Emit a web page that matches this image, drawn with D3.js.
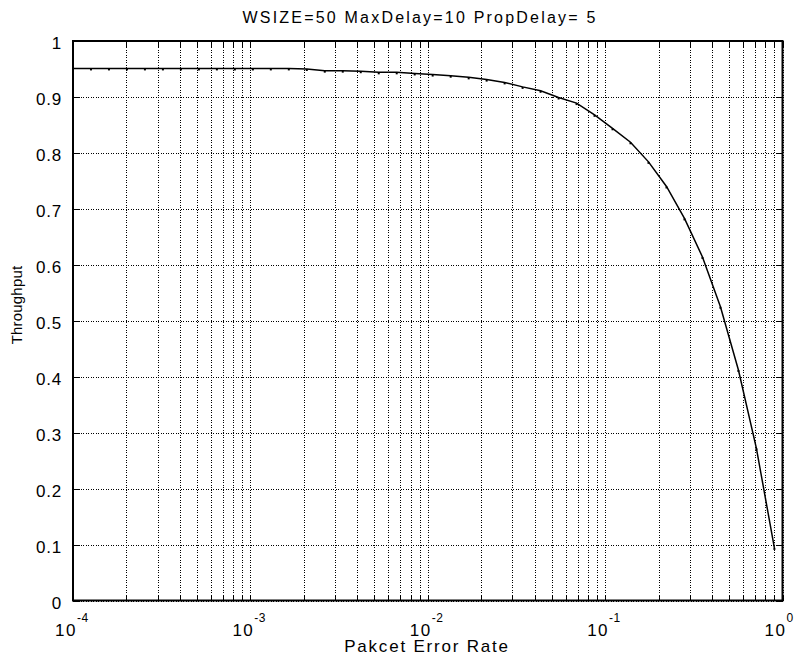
<!DOCTYPE html>
<html>
<head>
<meta charset="utf-8">
<script src="https://cdn.jsdelivr.net/npm/d3@7"></script>
<style>
  body { margin: 0; background: #fff; }
  svg { display: block; font-family: "Liberation Sans", Arial, sans-serif; }
  .grid line { stroke: #000; stroke-width: 1; stroke-dasharray: 1,1.5; shape-rendering: crispEdges; }
  .grid path { display: none; }
  .ticks line { stroke: #000; stroke-width: 1; shape-rendering: crispEdges; }
  .ticks path { display: none; }
</style>
</head>
<body>
<div id="canvas"></div>
<script>
// packet error rate (40 points, log spaced 1e-4 .. 0.9)
var perValues = [
  1.000e-4, 1.263e-4, 1.595e-4, 2.015e-4, 2.544e-4, 3.213e-4, 4.058e-4, 5.126e-4,
  6.474e-4, 8.176e-4, 1.033e-3, 1.304e-3, 1.647e-3, 2.080e-3, 2.627e-3, 3.318e-3,
  4.191e-3, 5.293e-3, 6.684e-3, 8.442e-3, 1.066e-2, 1.347e-2, 1.701e-2, 2.148e-2,
  2.713e-2, 3.426e-2, 4.327e-2, 5.465e-2, 6.902e-2, 8.717e-2, 0.1101, 0.1390,
  0.1756, 0.2218, 0.2801, 0.3538, 0.4468, 0.5643, 0.7127, 0.9
];
var throughput = [
  0.951, 0.951, 0.951, 0.951, 0.951, 0.951, 0.951, 0.951,
  0.951, 0.951, 0.951, 0.951, 0.951, 0.950, 0.947, 0.947,
  0.946, 0.944, 0.944, 0.942, 0.940, 0.938, 0.935, 0.931,
  0.926, 0.918, 0.911, 0.899, 0.889, 0.868, 0.844, 0.819,
  0.784, 0.740, 0.683, 0.614, 0.525, 0.412, 0.272, 0.094
];
var yTicks = [0, 0.1, 0.2, 0.3, 0.4, 0.5, 0.6, 0.7, 0.8, 0.9, 1];
var yTickLabels = ["0", "0.1", "0.2", "0.3", "0.4", "0.5", "0.6", "0.7", "0.8", "0.9", "1"];
var xMajor = [1e-4, 1e-3, 1e-2, 1e-1, 1];
var xExponents = ["-4", "-3", "-2", "-1", "0"];
var titleText = "WSIZE=50 MaxDelay=10 PropDelay= 5";
var xLabel = "Pakcet Error Rate";
var yLabel = "Throughput";

var W = 799, H = 668;
var plot = { left: 73, right: 782.5, top: 41, bottom: 600.5 };

var svg = d3.select("#canvas").append("svg")
  .attr("width", W)
  .attr("height", H);

var x = d3.scaleLog().domain([1e-4, 1]).range([plot.left, plot.right]);
var y = d3.scaleLinear().domain([0, 1]).range([plot.bottom, plot.top]);

// all decade sub-ticks 1..9 x 10^k
var xGrid = [];
xMajor.slice(0, 4).forEach(function(m) {
  for (var i = 1; i < 10; i++) xGrid.push(m * i);
});
xGrid.push(1);

var ph = plot.bottom - plot.top, pw = plot.right - plot.left;

// dotted grid
svg.append("g")
  .attr("class", "grid")
  .attr("transform", "translate(0," + plot.bottom + ")")
  .call(d3.axisBottom(x).tickValues(xGrid).tickSize(-ph).tickFormat(""));
svg.append("g")
  .attr("class", "grid")
  .attr("transform", "translate(" + plot.left + ",0)")
  .call(d3.axisLeft(y).tickValues(yTicks).tickSize(-pw).tickFormat(""));

// inward tick marks on all four sides
svg.append("g").attr("class", "ticks")
  .attr("transform", "translate(0," + plot.bottom + ")")
  .call(d3.axisBottom(x).tickValues(xGrid).tickSize(-6).tickFormat(""));
svg.append("g").attr("class", "ticks")
  .attr("transform", "translate(0," + plot.top + ")")
  .call(d3.axisTop(x).tickValues(xGrid).tickSize(-6).tickFormat(""));
svg.append("g").attr("class", "ticks")
  .attr("transform", "translate(" + plot.left + ",0)")
  .call(d3.axisLeft(y).tickValues(yTicks).tickSize(-7).tickFormat(""));
svg.append("g").attr("class", "ticks")
  .attr("transform", "translate(" + plot.right + ",0)")
  .call(d3.axisRight(y).tickValues(yTicks).tickSize(-7).tickFormat(""));

// frame
svg.append("rect")
  .attr("x", plot.left)
  .attr("y", plot.top)
  .attr("width", pw)
  .attr("height", ph)
  .attr("fill", "none")
  .attr("stroke", "#000")
  .attr("stroke-width", 2);

// y tick labels
svg.selectAll(".ylab")
  .data(yTicks)
  .enter().append("text")
  .attr("class", "ylab")
  .attr("x", plot.left - 11)
  .attr("y", function(d) { return y(d) + 8; })
  .attr("text-anchor", "end")
  .attr("font-size", 17)
  .attr("letter-spacing", 0.8)
  .text(function(d, i) { return yTickLabels[i]; });

// x tick labels 10^n
var xl = svg.selectAll(".xlab")
  .data(xMajor)
  .enter().append("text")
  .attr("class", "xlab")
  .attr("x", function(d) { return x(d) - 18; })
  .attr("y", 636)
  .attr("font-size", 17)
  .attr("letter-spacing", 1.5);
xl.append("tspan").text("10");
xl.append("tspan")
  .attr("dy", -14)
  .attr("font-size", 12)
  .attr("letter-spacing", 0.5)
  .text(function(d, i) { return xExponents[i]; });

// curve
var pts = perValues.map(function(p, i) { return [p, throughput[i]]; });
var line = d3.line()
  .x(function(d) { return x(d[0]); })
  .y(function(d) { return y(d[1]); });
svg.append("path")
  .datum(pts)
  .attr("fill", "none")
  .attr("stroke", "#000")
  .attr("stroke-width", 1.5)
  .attr("d", line);
svg.selectAll(".pt")
  .data(pts)
  .enter().append("rect")
  .attr("class", "pt")
  .attr("x", function(d) { return x(d[0]) - 1; })
  .attr("y", function(d) { return y(d[1]); })
  .attr("width", 2)
  .attr("height", 2)
  .attr("fill", "#000");

// title and axis labels
svg.append("text")
  .attr("x", 420)
  .attr("y", 23)
  .attr("text-anchor", "middle")
  .attr("font-size", 16)
  .attr("letter-spacing", 2.2)
  .text(titleText);
svg.append("text")
  .attr("x", 427)
  .attr("y", 652)
  .attr("text-anchor", "middle")
  .attr("font-size", 17)
  .attr("letter-spacing", 1.8)
  .text(xLabel);
svg.append("text")
  .attr("transform", "translate(22,305) rotate(-90)")
  .attr("text-anchor", "middle")
  .attr("font-size", 15)
  .attr("letter-spacing", 0.2)
  .text(yLabel);
</script>
</body>
</html>
